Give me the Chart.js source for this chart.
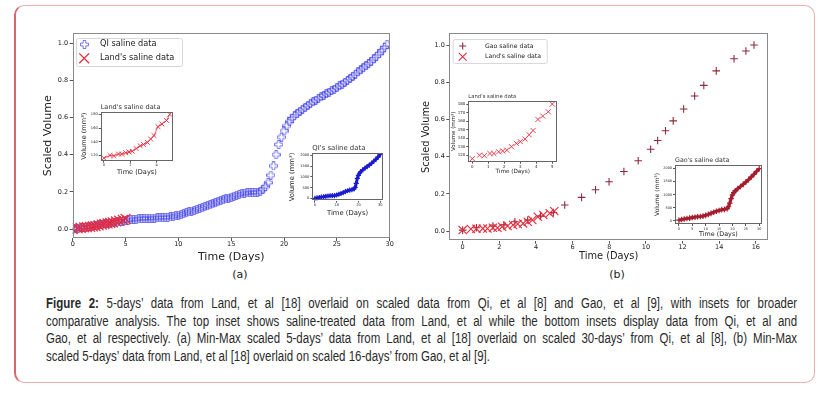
<!DOCTYPE html>
<html>
<head>
<meta charset="utf-8">
<script src="https://cdn.jsdelivr.net/npm/chart.js@4.4.1/dist/chart.umd.min.js"></script>
<style>
  html,body{margin:0;padding:0;background:#fff;}
  #fig{position:relative;width:832px;height:396px;overflow:hidden;font-family:'DejaVu Sans',sans-serif;}
  #fig canvas{position:absolute;}
  .box{position:absolute;left:14px;top:5px;width:801px;height:378px;box-sizing:border-box;border:1px solid #eab0b0;border-left:2px solid #d8676c;border-radius:10px;}
  .sub{position:absolute;top:268px;width:40px;margin-left:-20px;text-align:center;font-size:11px;line-height:13px;color:#222;}
  /* no narrow face installed: squeeze a regular sans to look like the condensed caption font */
  .cap{position:absolute;left:46px;top:295px;width:916px;transform:scaleX(0.82);transform-origin:0 0;font-family:'Liberation Sans',Arial,sans-serif;font-size:14px;line-height:17.6px;color:#2a2a2a;}
  .cap div{white-space:nowrap;text-align:justify;text-align-last:justify;}
  .cap div.last{text-align-last:left;}
</style>
</head>
<body>
<div id="fig">
  <div class="box"></div>
  <div class="sub" style="left:240px">(a)</div>
  <div class="sub" style="left:617px">(b)</div>
  <div class="cap">
    <div><b>Figure 2:</b> 5-days’ data from Land, et al [18] overlaid on scaled data from Qi, et al [8] and Gao, et al [9], with insets for broader</div>
    <div>comparative analysis. The top inset shows saline-treated data from Land, et al while the bottom insets display data from Qi, et al and</div>
    <div>Gao, et al respectively. (a) Min-Max scaled 5-days’ data from Land, et al [18] overlaid on scaled 30-days’ from Qi, et al [8], (b) Min-Max</div>
    <div class="last">scaled 5-days’ data from Land, et al [18] overlaid on scaled 16-days’ from Gao, et al [9].</div>
  </div>
</div>
<script>
// data
const qiDays = [0,0.25,0.5,0.75,1,1.25,1.5,1.75,2,2.25,2.5,2.75,3,3.25,3.5,3.75,4,4.25,4.5,4.75,5,5.25,5.5,5.75,6,6.25,6.5,6.75,7,7.25,7.5,7.75,8,8.25,8.5,8.75,9,9.25,9.5,9.75,10,10.25,10.5,10.75,11,11.25,11.5,11.75,12,12.25,12.5,12.75,13,13.25,13.5,13.75,14,14.25,14.5,14.75,15,15.25,15.5,15.75,16,16.25,16.5,16.75,17,17.25,17.5,17.75,18,18.25,18.5,18.75,19,19.25,19.5,19.75,20,20.25,20.5,20.75,21,21.25,21.5,21.75,22,22.25,22.5,22.75,23,23.25,23.5,23.75,24,24.25,24.5,24.75,25,25.25,25.5,25.75,26,26.25,26.5,26.75,27,27.25,27.5,27.75,28,28.25,28.5,28.75,29,29.25,29.5,29.75];
const qiScaled = [0,0.002,0.004,0.006,0.008,0.010,0.013,0.015,0.018,0.020,0.023,0.025,0.028,0.030,0.032,0.034,0.036,0.038,0.041,0.043,0.045,0.047,0.050,0.052,0.053,0.055,0.056,0.057,0.058,0.058,0.059,0.059,0.060,0.060,0.061,0.062,0.063,0.065,0.068,0.071,0.075,0.079,0.083,0.088,0.092,0.097,0.101,0.106,0.110,0.115,0.120,0.125,0.130,0.135,0.141,0.146,0.152,0.157,0.162,0.167,0.172,0.177,0.182,0.186,0.189,0.192,0.194,0.195,0.196,0.197,0.199,0.204,0.213,0.228,0.250,0.290,0.340,0.400,0.455,0.495,0.528,0.555,0.578,0.596,0.610,0.622,0.634,0.645,0.655,0.665,0.675,0.685,0.694,0.703,0.711,0.719,0.728,0.736,0.745,0.753,0.762,0.771,0.780,0.790,0.800,0.811,0.822,0.834,0.846,0.857,0.868,0.879,0.891,0.903,0.916,0.930,0.944,0.960,0.978,0.995];

const landDays = [0,0.45,0.75,1.1,1.35,1.65,1.9,2.15,2.45,2.75,3.0,3.3,3.55,3.8,4.1,4.4,4.75,5.0];
const landVol = [116,120,119.5,122,122,124,125,126,130,134,136,139,144,149,162,166,171,180];
const landScaledA = [0,0.005,0.006,0.009,0.010,0.012,0.014,0.016,0.020,0.024,0.027,0.030,0.033,0.036,0.041,0.045,0.049,0.055];
const landScaledB = [0.005,0.011,0.012,0.013,0.014,0.018,0.017,0.023,0.027,0.032,0.038,0.041,0.050,0.059,0.077,0.086,0.096,0.107];

const qiVolDays = [0,1,2,3,4,5,6,7,8,9,10,11,12,13,14,15,16,17,18,18.5,19,19.5,20,20.5,21,22,23,24,25,26,27,28,29,30];
const qiVol = [0,20,40,60,75,95,110,120,125,130,155,190,225,265,310,355,385,400,435,510,700,930,1070,1170,1240,1330,1410,1480,1550,1630,1725,1815,1925,2040];

const gaoDays = [0,0.75,1.65,2.25,2.85,3.55,4.25,4.95,5.57,6.49,7.25,7.99,8.8,9.58,10.26,10.64,11.07,11.49,12.06,12.66,13.16,13.84,14.81,15.46,15.9];
const gaoScaled = [0.005,0.018,0.027,0.033,0.05,0.059,0.08,0.1,0.14,0.181,0.222,0.265,0.32,0.378,0.44,0.487,0.539,0.592,0.656,0.726,0.783,0.861,0.926,0.968,1.0];

const gaoVolDays = [0,1,2,3,4,5,6,7,8,9,10,11,12,13,14,15,16,17,18,18.5,19,19.5,20,20.5,21,22,23,24,25,26,27,28,29,30];
const gaoVol = [30,55,75,95,110,130,145,160,170,185,215,250,290,330,370,400,430,440,470,540,680,850,990,1080,1140,1230,1310,1390,1480,1570,1670,1770,1880,1990];

// tick labels
const ticksA_x = [0,5,10,15,20,25,30];
const ticksB_x = [0,2,4,6,8,10,12,14,16];
const ticksMain_y = [0,0.2,0.4,0.6,0.8,1.0];
const ticksLandA_x = [0,2,4];
const ticksLandA_y = [120,140,160,180];
const ticksLandB_x = [0,1,2,3,4,5];
const ticksLandB_y = [120,130,140,150,160,170,180];
const ticksQi_x = [0,10,20,30];
const ticksGao_x = [0,5,10,15,20,25,30];
const ticksVol_y = [0,500,1000,1500,2000];

Chart.defaults.font.family = "'DejaVu Sans', sans-serif";
Chart.defaults.color = '#222';

const $ = (id)=>document.getElementById(id);
const pts = (xs, ys)=> xs.map((x,i)=>({x, y:ys[i]}));

// hollow thick plus, like matplotlib 'P' with white face
function hollowPlus(size, color){
  const c = document.createElement('canvas'); c.width = c.height = size;
  const g = c.getContext('2d'), o = 0.5, s = size-1, t = s/3;
  const p = [[t,0],[2*t,0],[2*t,t],[s,t],[s,2*t],[2*t,2*t],[2*t,s],[t,s],[t,2*t],[0,2*t],[0,t],[t,t]];
  g.beginPath(); p.forEach(([x,y],i)=> i ? g.lineTo(x+o,y+o) : g.moveTo(x+o,y+o)); g.closePath();
  g.strokeStyle = color; g.lineWidth = 1; g.stroke();
  return c;
}

function drawMarker(ctx, ds, x, y, r){
  const st = ds.pointStyle;
  ctx.save();
  if (st instanceof HTMLCanvasElement){ ctx.drawImage(st, Math.round(x - st.width/2), Math.round(y - st.height/2)); ctx.restore(); return; }
  ctx.strokeStyle = ds.pointBorderColor; ctx.lineWidth = ds.pointBorderWidth || 1;
  const d = st === 'crossRot' ? r*Math.SQRT1_2 : r;
  ctx.beginPath();
  if (st === 'crossRot'){ ctx.moveTo(x-d,y-d); ctx.lineTo(x+d,y+d); ctx.moveTo(x+d,y-d); ctx.lineTo(x-d,y+d); }
  else { ctx.moveTo(x-d,y); ctx.lineTo(x+d,y); ctx.moveTo(x,y-d); ctx.lineTo(x,y+d); }
  ctx.stroke(); ctx.restore();
}

// axes box, white face, left title and legend box drawn like matplotlib
const frame = {
  id:'frame',
  beforeDraw(chart, args, o){
    if (!o.bg) return;
    const a = chart.chartArea, ctx = chart.ctx;
    ctx.save(); ctx.fillStyle = o.bg; ctx.fillRect(a.left, a.top, a.right-a.left, a.bottom-a.top); ctx.restore();
  },
  afterDraw(chart, args, o){
    const a = chart.chartArea, ctx = chart.ctx;
    ctx.save();
    ctx.strokeStyle = o.color; ctx.lineWidth = 1;
    ctx.strokeRect(Math.round(a.left)+0.5, Math.round(a.top)+0.5, Math.round(a.right-a.left)-1, Math.round(a.bottom-a.top)-1);
    if (o.title){
      ctx.font = `${o.titleSize}px 'DejaVu Sans'`; ctx.fillStyle = '#333'; ctx.textBaseline = 'alphabetic';
      ctx.fillText(o.title, a.left, a.top - 3);
    }
    const L = o.legend;
    if (L){
      const x0 = a.left + L.x, y0 = a.top + L.y;
      ctx.beginPath(); ctx.roundRect(x0+0.5, y0+0.5, L.w, L.h, 2);
      ctx.fillStyle = 'rgba(255,255,255,0.85)'; ctx.fill();
      ctx.strokeStyle = '#d8d8d8'; ctx.stroke();
      ctx.font = `${L.size}px 'DejaVu Sans'`; ctx.textBaseline = 'middle'; ctx.fillStyle = '#222';
      L.rows.forEach((ry, i)=>{
        const ds = chart.data.datasets[i], y = a.top + ry;
        drawMarker(ctx, ds, a.left + L.mx, y, L.r[i]);
        ctx.fillText(ds.label, a.left + L.tx, y);
      });
    }
    ctx.restore();
  }
};

function axis(o){
  return {
    type:'linear', min:o.min, max:o.max,
    afterBuildTicks: s => { s.ticks = o.ticks.map(v=>({value:v})); },
    afterFit: s => { if (o.w != null) s.width = o.w; if (o.h != null) s.height = o.h; },
    grid:{display:true, drawOnChartArea:false, drawTicks:true, tickLength:o.tl, color:o.tc || '#555'},
    border:{display:false},
    ticks:{autoSkip:false, maxRotation:0, minRotation:0, padding:o.pad, color:'#222', font:{size:o.fs, lineHeight:1}, callback:o.fmt || (v=>String(v))},
    title:{display:true, text:o.title, padding:0, color:'#222', font:{size:o.tfs}}
  };
}

function place(id, l, t, w, h){
  const c = document.createElement('canvas');
  c.id = id; c.width = w; c.height = h;
  c.style.left = l+'px'; c.style.top = t+'px'; c.style.width = w+'px'; c.style.height = h+'px';
  $('fig').appendChild(c);
  return c;
}

function plot(id, box, pad, datasets, x, y, fr){
  return new Chart(place(id, ...box), {
    type:'scatter',
    data:{datasets},
    options:{
      responsive:false, animation:false, events:[], devicePixelRatio:1,
      layout:{padding:{top:pad[0], right:pad[1], bottom:0, left:0}},
      plugins:{legend:{display:false}, tooltip:{enabled:false}, frame:fr},
      scales:{x:axis(x), y:axis(y)}
    },
    plugins:[frame]
  });
}

const qiBlue = 'rgba(60,60,228,0.68)', landRed = '#e52b3c', gaoRed = '#8e2a3b';
const fmt1 = v=>v.toFixed(1);
const volTitle = 'Volume (mm³)', dayTitle = 'Time (Days)';

// (a) main; lower order is drawn on top, so Land's x marks sit over the pluses
plot('mainA', [42,20,356,244], [13.3,3.7], [
  {label:'QI saline data', data:pts(qiDays, qiScaled), pointStyle:hollowPlus(9, qiBlue), pointRadius:4.5, order:1},
  {label:"Land's saline data", data:pts(landDays, landScaledA), pointStyle:'crossRot', pointRadius:7, pointBorderColor:landRed, pointBorderWidth:1.3, order:0}
], {min:0, max:30, ticks:ticksA_x, h:25.7, tl:3, pad:0, fs:6.5, title:dayTitle, tfs:11},
   {min:-0.05, max:1.054, ticks:ticksMain_y, w:30.7, tl:3, pad:1.5, fs:6.5, fmt:fmt1, title:'Scaled Volume', tfs:11},
   {color:'#8a8a8a', legend:{x:3.3, y:4.7, w:106, h:28, mx:11.5, tx:27.3, rows:[11,25], r:[4.5,7], size:8.2}});

// (b) main
plot('mainB', [421,20,354,242], [13.3,4.3], [
  {label:'Gao saline data', data:pts(gaoDays, gaoScaled), pointStyle:'cross', pointRadius:3.8, pointBorderColor:gaoRed, pointBorderWidth:1.1, order:1},
  {label:"Land's saline data", data:pts(landDays, landScaledB), pointStyle:'crossRot', pointRadius:5.8, pointBorderColor:landRed, pointBorderWidth:1.1, order:0}
], {min:-0.73, max:16.67, ticks:ticksB_x, h:21.3, tl:3, pad:0, fs:6.5, title:dayTitle, tfs:9.8},
   {min:-0.052, max:1.063, ticks:ticksMain_y, w:28.3, tl:3, pad:1.5, fs:6.5, fmt:fmt1, title:'Scaled Volume', tfs:9.8},
   {color:'#8a8a8a', legend:{x:3.4, y:5.7, w:94, h:24, mx:13.4, tx:35.7, rows:[12.7,23.4], r:[3.5,5.5], size:6.2}});

// (a) insets
plot('landA', [80,98,98,78], [13.7,3.7], [
  {label:"Land's saline data", data:pts(landDays, landVol), showLine:true, borderColor:landRed, borderWidth:0.8, pointStyle:'crossRot', pointRadius:3.4, pointBorderColor:landRed, pointBorderWidth:0.9}
], {min:-0.25, max:5.25, ticks:ticksLandA_x, h:15.3, tl:2, pad:1, fs:3.6, title:dayTitle, tfs:6.6},
   {min:112.3, max:183.8, ticks:ticksLandA_y, w:20.7, tl:2, pad:1, fs:3.6, title:volTitle, tfs:6.6},
   {bg:'#fff', color:'#666', title:"Land's saline data", titleSize:6.6});

plot('qiA', [288,140,100,77], [13.3,2.7], [
  {label:"QI's saline data", data:pts(qiVolDays, qiVol), showLine:true, borderColor:'#1a1ad2', borderWidth:3, pointStyle:'cross', pointRadius:2.6, pointBorderColor:'#1a1ad2', pointBorderWidth:1.2}
], {min:-1.2, max:31.2, ticks:ticksQi_x, h:16.3, tl:2, pad:1, fs:3.6, title:dayTitle, tfs:6.8},
   {min:-110, max:2100, ticks:ticksVol_y, w:24.3, tl:2, pad:1, fs:3.6, title:volTitle, tfs:6.8},
   {bg:'#fff', color:'#666', title:"QI's saline data", titleSize:6.9});

// (b) insets
plot('landB', [450,88,112,87], [13,3], [
  {label:"Land's saline data", data:pts(landDays, landVol), pointStyle:'crossRot', pointRadius:3.6, pointBorderColor:landRed, pointBorderWidth:0.9}
], {min:-0.25, max:5.3, ticks:ticksLandB_x, h:13.3, tl:2, pad:1, fs:4, title:dayTitle, tfs:5.7},
   {min:112.4, max:183.6, ticks:ticksLandB_y, w:18.3, tl:2, pad:1, fs:4, title:volTitle, tfs:5.5},
   {bg:'#fff', color:'#666', title:"Land's saline data", titleSize:5.3});

plot('gaoB', [654,152,113,86], [13,2.7], [
  {label:"Gao's saline data", data:pts(gaoVolDays, gaoVol), showLine:true, borderColor:'#a51e2d', borderWidth:3.2, pointStyle:'cross', pointRadius:2.8, pointBorderColor:'#a51e2d', pointBorderWidth:1.2}
], {min:-1.45, max:30.95, ticks:ticksGao_x, h:14, tl:2, pad:1, fs:3.4, title:dayTitle, tfs:6.4},
   {min:-114, max:2125, ticks:ticksVol_y, w:21, tl:2, pad:1, fs:3.4, title:volTitle, tfs:6},
   {bg:'#fff', color:'#666', title:"Gao's saline data", titleSize:6.3});
</script>
</body>
</html>
